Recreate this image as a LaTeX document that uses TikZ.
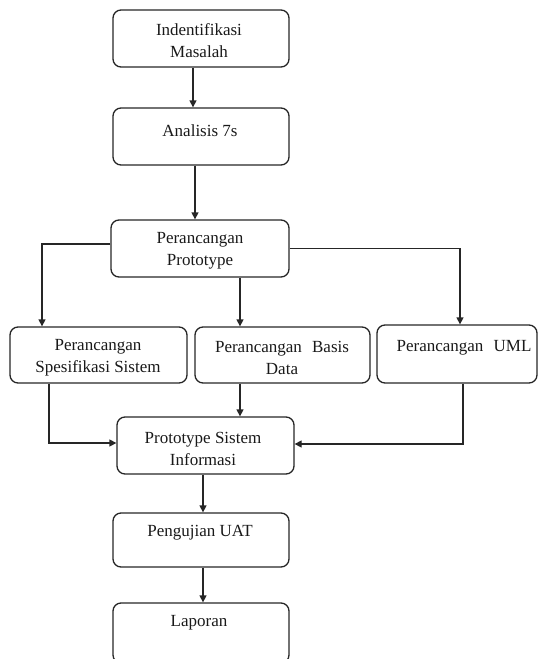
\documentclass[tikz,border=0pt]{standalone}
\usepackage{fontspec}
\setmainfont{Liberation Serif}
\usetikzlibrary{arrows.meta}
\tikzset{
  box/.style={draw=black!85, line width=1.3pt, rounded corners=8pt, inner sep=0pt},
  txt/.style={inner sep=0pt, align=center, font=\fontsize{17}{22}\selectfont, text=black!90},
  arr/.style={draw=black!85, line width=1.3pt, -{Triangle[length=7pt,width=7pt]}},
  ln/.style={draw=black!85, line width=1.3pt}
}
\begin{document}
\begin{tikzpicture}[x=1pt,y=-1pt]
\useasboundingbox (0,0) rectangle (543,659);
% boxes
\node[box, minimum width=176pt, minimum height=57pt] (b1) at (201,38.5) {};
\node[box, minimum width=176pt, minimum height=57pt] (b2) at (201,136.5) {};
\node[box, minimum width=178pt, minimum height=57pt] (b3) at (200,248.5) {};
\node[box, minimum width=177pt, minimum height=56pt] (b4) at (98.5,355) {};
\node[box, minimum width=175pt, minimum height=56pt] (b5) at (282.5,355) {};
\node[box, minimum width=160pt, minimum height=58pt] (b6) at (457,354) {};
\node[box, minimum width=177pt, minimum height=57pt] (b7) at (205.5,445.5) {};
\node[box, minimum width=176pt, minimum height=54pt] (b8) at (201,540) {};
\node[box, minimum width=176pt, minimum height=60pt] (b9) at (201,633) {};
% texts
\node[txt] (t1) at (199,41) {Indentifikasi\\Masalah};
\node[txt] (t2) at (200,131) {Analisis 7s};
\node[txt] (t3) at (200,251) {Perancangan\\Prototype};
\node[txt] (t4) at (98,358) {Perancangan\\Spesifikasi Sistem};
\node[txt] (t5) at (282,358) {Perancangan\hspace{0.6em}Basis\\Data};
\node[txt] (t6) at (464,348) {Perancangan\hspace{0.6em}UML};
\node[txt] (t7) at (203,448.5) {Prototype Sistem\\Informasi};
\node[txt] (t8) at (200,533) {Pengujian UAT};
\node[txt] (t9) at (199,623) {Laporan};
% connectors
\draw[arr] ([xshift=-8pt]b1.south) -- ([xshift=-8pt]b2.north);
\draw[arr] ([xshift=-6pt]b2.south) -- ([xshift=-5pt]b3.north);
\draw[arr] ([yshift=4.5pt]b3.west) -| ([xshift=-56.5pt]b4.north);
\draw[arr] ([xshift=40pt]b3.south) -- ([xshift=-42.5pt]b5.north);
\draw[arr] (b3.east) -| ([xshift=3pt]b6.north);
\draw[arr] ([xshift=-49.5pt]b4.south) |- ([yshift=2.5pt]b7.west);
\draw[arr] ([xshift=-42.5pt]b5.south) -- ([xshift=34.5pt]b7.north);
\draw[arr] ([xshift=6pt]b6.south) |- ([yshift=1.5pt]b7.east);
\draw[arr] ([xshift=-2.5pt]b7.south) -- ([xshift=2pt]b8.north);
\draw[arr] ([xshift=2pt]b8.south) -- ([xshift=2pt]b9.north);
\end{tikzpicture}
\end{document}
